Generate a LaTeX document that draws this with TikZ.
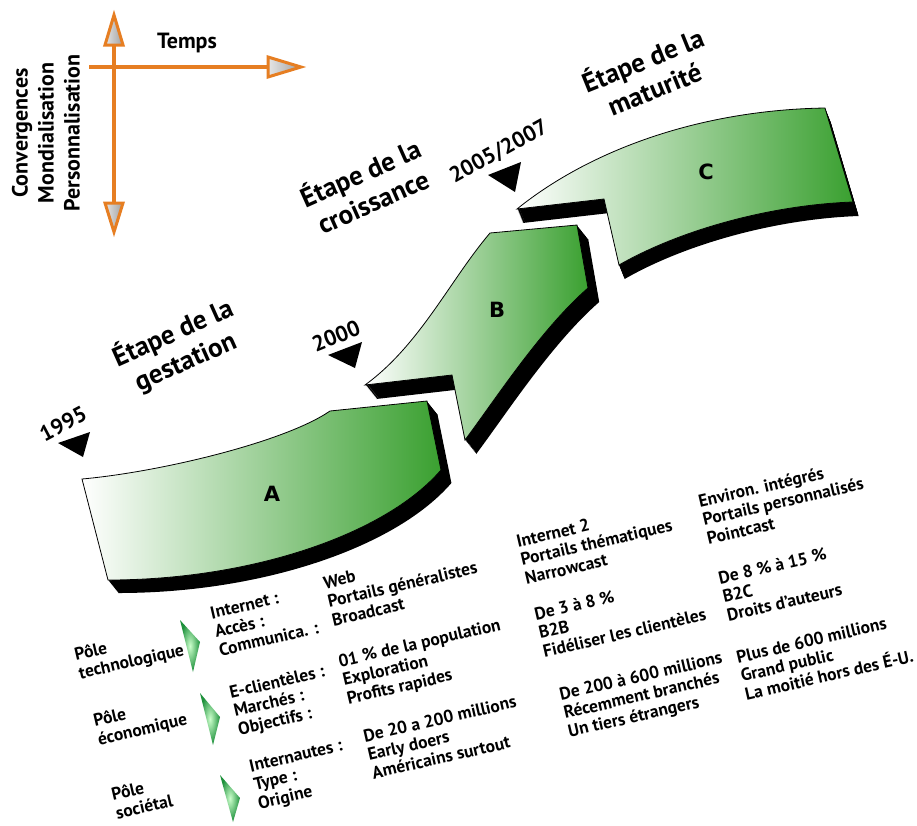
\documentclass[tikz,border=0pt]{standalone}
\usepackage{fontspec}
\setmainfont{PT Sans}
\newfontfamily\letterfont{DejaVu Sans}
\definecolor{axisorange}{RGB}{230,126,34}
\definecolor{stagegreen}{RGB}{58,160,48}
\definecolor{polegreen}{RGB}{30,145,60}

\def\bandA{(82,479) .. controls (160,472) and (285,442) .. (330,411) -- (427,401) -- (441,470) .. controls (385,535) and (250,580) .. (108,580) -- cycle}
\def\bandB{(365,385) -- (452,375) -- (465,440) .. controls (495,400) and (540,330) .. (588,288) -- (577,225) -- (490,233) .. controls (450,280) and (420,345) .. (365,385) -- cycle}
\def\bandC{(517,209) -- (604,199) -- (619,265) .. controls (680,230) and (770,205) .. (853,202) -- (825,108) .. controls (700,110) and (590,150) .. (517,209) -- cycle}

\begin{document}
\begin{tikzpicture}[x=1pt,y=-1pt,
  stage/.style={font=\fontsize{27}{31}\selectfont\bfseries,align=center,rotate=#1},
  year/.style={font=\fontsize{22}{24}\selectfont\bfseries,rotate=#1},
  axistxt/.style={font=\fontsize{22}{26}\selectfont\bfseries},
  cell/.style={font=\fontsize{17.5}{19}\selectfont\bfseries,align=left,anchor=north west,inner sep=0pt,rotate=13},
  letter/.style={font=\letterfont\fontsize{21}{21}\selectfont\bfseries},
  band/.style={draw=black,line width=0.8pt,left color=white,right color=stagegreen},
  marker/.style={fill=black},
  axisline/.style={axisorange,line width=4pt},
  axishead/.style={draw=axisorange,line width=3pt,left color=gray!20,right color=gray!75},
  pole/.style={inner color=green!20!white,outer color=polegreen}]
%\draw[help lines] (0,0) grid[step=50] (917,825);
\useasboundingbox (0,0) rectangle (917,825);

\coordinate (vtop) at (114,45);
\coordinate (vbot) at (114,203);
\coordinate (hleft) at (89,67);
\coordinate (hright) at (268,67);
\draw[axisline] (vtop) -- (vbot);
\draw[axisline] (hleft) -- (hright);
\draw[axishead] (105,45) -- (114,15) -- (123,45) -- cycle;
\draw[axishead] (105,203) -- (114,232) -- (123,203) -- cycle;
\draw[axishead] (268,57) -- (301,67) -- (268,77) -- cycle;
\node (temps) at (187,43) [axistxt] {Temps};
\node (forces) at (46,133) [axistxt,align=center,rotate=90] {Convergences\\Mondialisation\\Personnalisation};

\foreach \k in {1,...,14} \fill[black,shift={(\k*0.4,\k)}] \bandC;
\draw[band] \bandC;
\foreach \k in {1,...,14} \fill[black,shift={(\k*0.8,\k)}] \bandB;
\draw[band] \bandB;
\foreach \k in {1,...,13} \fill[black,shift={(\k*0.8,\k)}] \bandA;
\draw[band] \bandA;

\node (la) at (272,494) [letter] {A};
\node (lb) at (497,310) [letter] {B};
\node (lc) at (706,172) [letter] {C};

\node (gestation) at (179,347) [stage=24] {Étape de la\\gestation};
\node (croissance) at (366,186) [stage=24] {Étape de la\\croissance};
\node (maturite) at (648,73) [stage=22] {Étape de la\\maturité};

\node (y1995) at (63,424) [year=28] {1995};
\node (y2000) at (336,336) [year=22] {2000};
\node (y2005) at (499,152) [year=29] {2005/2007};
\fill[marker] (58,443) -- (90,432) -- (83,457) -- cycle;
\fill[marker] (328,355) -- (362,342) -- (355,368) -- cycle;
\fill[marker] (488,175) -- (521,162) -- (515,192) -- cycle;

\shade[pole] (180,620) -- (200,642) -- (193,672) -- cycle;
\shade[pole] (200,693) -- (220,717) -- (213,745) -- cycle;
\shade[pole] (220,775) -- (240,798) -- (233,822) -- cycle;

\node (ptech) at (73,648) [cell] {Pôle\\technologique};
\node (ktech) at (209,607) [cell] {Internet :\\Accès :\\Communica. :};
\node (tech1) at (322,577) [cell] {Web\\Portails généralistes\\Broadcast};
\node (tech2) at (515,535) [cell] {Internet 2\\Portails thématiques\\Narrowcast};
\node (tech3) at (697,495) [cell] {Environ. intégrés\\Portails personnalisés\\Pointcast};

\node (peco) at (92,714) [cell] {Pôle\\économique};
\node (keco) at (228,686) [cell] {E-clientèles :\\Marchés :\\Objectifs :};
\node (eco1) at (337,655) [cell] {01~\% de la population\\Exploration\\Profits rapides};
\node (eco2) at (533,608) [cell] {De 3 à 8~\%\\B2B\\Fidéliser les clientèles};
\node (eco3) at (717,572) [cell] {De 8~\% à 15~\%\\B2C\\Droits d’auteurs};

\node (psoc) at (110,788) [cell] {Pôle\\sociétal};
\node (ksoc) at (248,760) [cell] {Internautes :\\Type :\\Origine};
\node (soc1) at (362,730) [cell] {De 20 a 200 millions\\Early doers\\Américains surtout};
\node (soc2) at (558,688) [cell] {De 200 à 600 millions\\Récemment branchés\\Un tiers étrangers};
\node (soc3) at (735,651) [cell] {Plus de 600 millions\\Grand public\\La moitié hors des É-U.};
\end{tikzpicture}
\end{document}
